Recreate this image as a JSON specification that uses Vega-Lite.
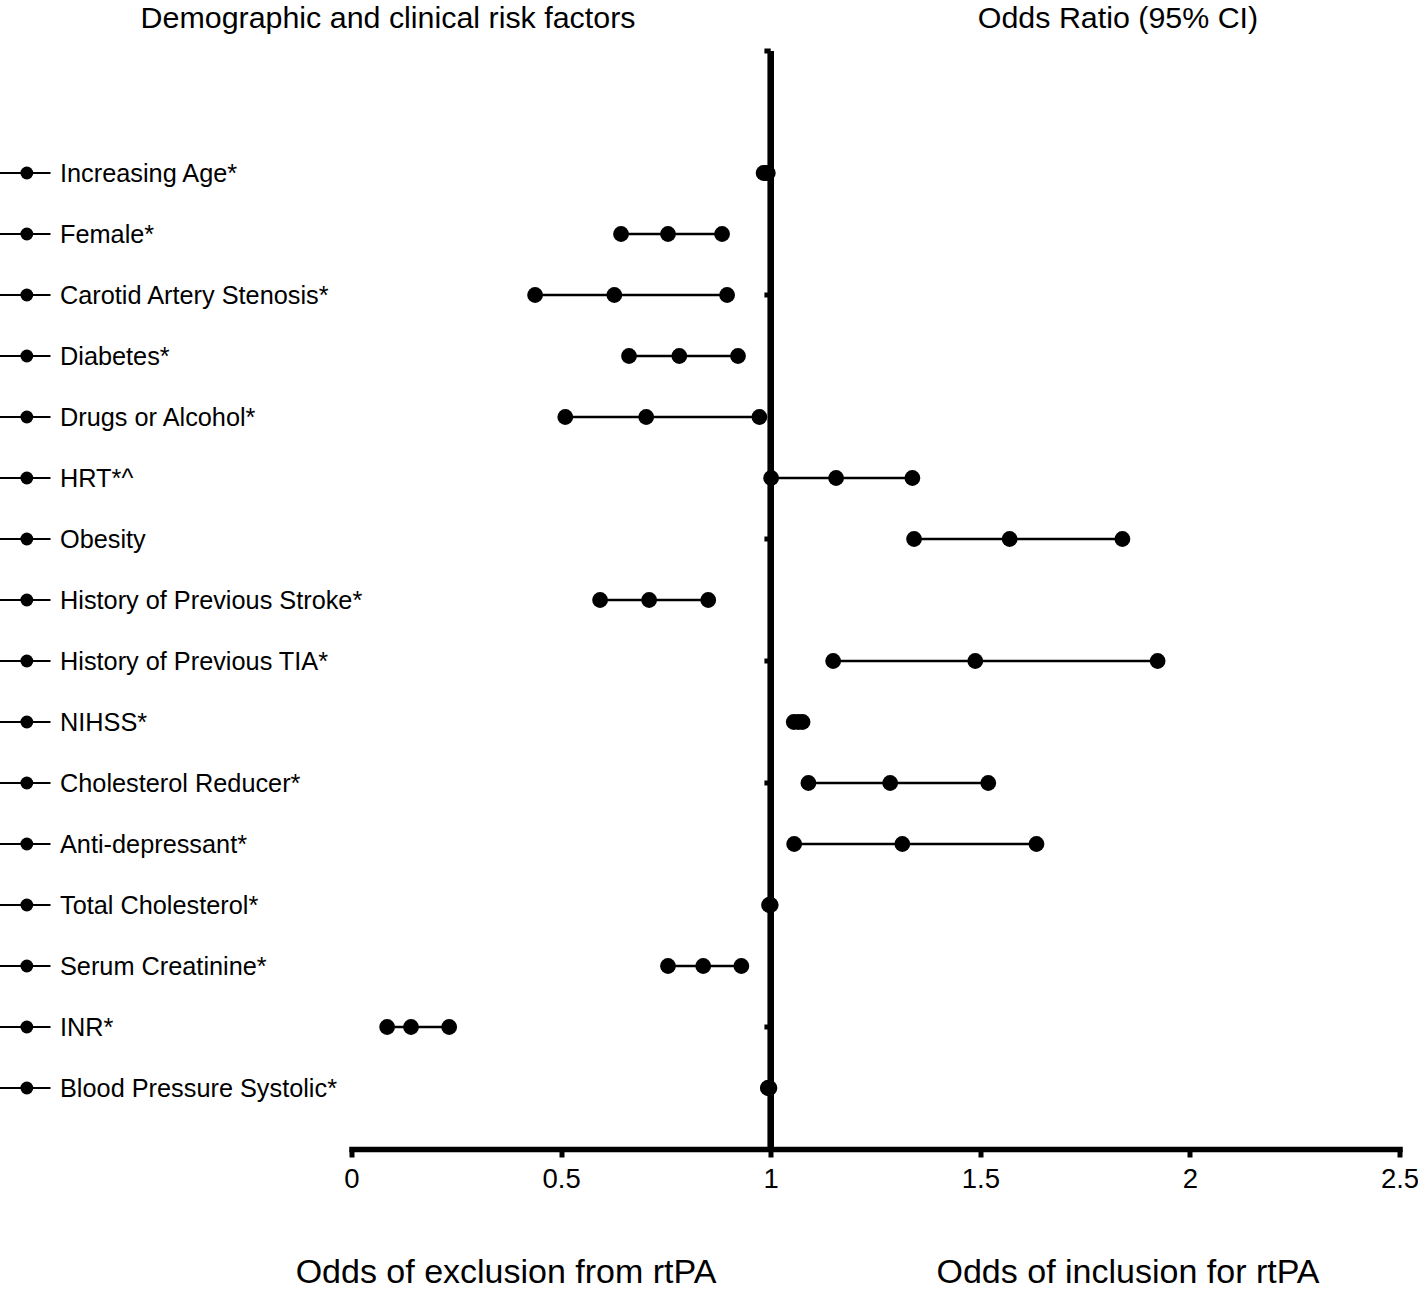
{
  "$schema": "https://vega.github.io/schema/vega-lite/v6.json",
  "width": 1048,
  "height": 1098,
  "autosize": {"type": "none"},
  "padding": {"left": 351.5, "top": 51, "right": 18.5, "bottom": 140},
  "background": "white",
  "config": {"view": {"stroke": null}, "font": "Liberation Sans"},
  "datasets": {
    "ticks": [
      {"factor": " "},
      {"factor": "Carotid Artery Stenosis*"},
      {"factor": "Obesity"},
      {"factor": "History of Previous TIA*"},
      {"factor": "Cholesterol Reducer*"},
      {"factor": "INR*"}
    ]
  },
  "data": {
    "values": [
      {"factor": "Increasing Age*", "lower": 0.983, "or": 0.988, "upper": 0.993},
      {"factor": "Female*", "lower": 0.643, "or": 0.755, "upper": 0.884},
      {"factor": "Carotid Artery Stenosis*", "lower": 0.438, "or": 0.627, "upper": 0.896},
      {"factor": "Diabetes*", "lower": 0.662, "or": 0.782, "upper": 0.922},
      {"factor": "Drugs or Alcohol*", "lower": 0.51, "or": 0.703, "upper": 0.973},
      {"factor": "HRT*^", "lower": 1.001, "or": 1.156, "upper": 1.338},
      {"factor": "Obesity", "lower": 1.342, "or": 1.57, "upper": 1.839},
      {"factor": "History of Previous Stroke*", "lower": 0.593, "or": 0.71, "upper": 0.851},
      {"factor": "History of Previous TIA*", "lower": 1.149, "or": 1.488, "upper": 1.923},
      {"factor": "NIHSS*", "lower": 1.055, "or": 1.066, "upper": 1.076},
      {"factor": "Cholesterol Reducer*", "lower": 1.09, "or": 1.285, "upper": 1.519},
      {"factor": "Anti-depressant*", "lower": 1.056, "or": 1.314, "upper": 1.634},
      {"factor": "Total Cholesterol*", "lower": 0.996, "or": 0.998, "upper": 1.0},
      {"factor": "Serum Creatinine*", "lower": 0.755, "or": 0.839, "upper": 0.93},
      {"factor": "INR*", "lower": 0.085, "or": 0.142, "upper": 0.233},
      {"factor": "Blood Pressure Systolic*", "lower": 0.993, "or": 0.995, "upper": 0.997}
    ]
  },
  "resolve": {"axis": {"x": "independent", "y": "independent"}},
  "layer": [
    {
      "mark": {"type": "rule", "strokeWidth": 5.5, "color": "black"},
      "encoding": {
        "x": {"datum": 1, "type": "quantitative", "scale": {"domain": [0, 2.5], "nice": false, "zero": false}, "axis": null},
        "y": {"datum": " ", "type": "nominal", "scale": {"type": "point", "padding": 0, "domain": [" ", "  ", "Increasing Age*", "Female*", "Carotid Artery Stenosis*", "Diabetes*", "Drugs or Alcohol*", "HRT*^", "Obesity", "History of Previous Stroke*", "History of Previous TIA*", "NIHSS*", "Cholesterol Reducer*", "Anti-depressant*", "Total Cholesterol*", "Serum Creatinine*", "INR*", "Blood Pressure Systolic*", "   "]}, "axis": null},
        "y2": {"datum": "   "}
      }
    },
    {
      "data": {"name": "ticks"},
      "mark": {"type": "rule", "strokeWidth": 5, "color": "black"},
      "encoding": {
        "x": {"datum": 0.985, "type": "quantitative", "scale": {"domain": [0, 2.5], "nice": false, "zero": false}, "axis": null},
        "x2": {"datum": 1},
        "y": {"field": "factor", "type": "nominal", "scale": {"type": "point", "padding": 0, "domain": [" ", "  ", "Increasing Age*", "Female*", "Carotid Artery Stenosis*", "Diabetes*", "Drugs or Alcohol*", "HRT*^", "Obesity", "History of Previous Stroke*", "History of Previous TIA*", "NIHSS*", "Cholesterol Reducer*", "Anti-depressant*", "Total Cholesterol*", "Serum Creatinine*", "INR*", "Blood Pressure Systolic*", "   "]}, "axis": null}
      }
    },
    {
      "mark": {"type": "rule", "strokeWidth": 2.5, "color": "black"},
      "encoding": {
        "x": {
          "field": "lower", "type": "quantitative",
          "scale": {"domain": [0, 2.5], "nice": false, "zero": false},
          "axis": {
            "orient": "bottom", "values": [0, 0.5, 1, 1.5, 2, 2.5], "format": "~g", "grid": false,
            "domainWidth": 5.5, "domainColor": "black", "domainCap": "square",
            "tickWidth": 5, "tickSize": 8, "tickColor": "black",
            "labelFont": "Liberation Sans", "labelFontSize": 27.5, "labelColor": "black", "labelPadding": 8, "labelFlush": false,
            "title": "Odds of  exclusion from rtPA", "titleFont": "Liberation Sans", "titleFontSize": 34, "titleFontWeight": "normal", "titleColor": "black",
            "titleX": 154, "titleY": 133, "titleAlign": "center", "titleBaseline": "alphabetic", "titleAnchor": null
          }
        },
        "x2": {"field": "upper"},
        "y": {
          "field": "factor", "type": "nominal",
          "scale": {"type": "point", "padding": 0, "domain": [" ", "  ", "Increasing Age*", "Female*", "Carotid Artery Stenosis*", "Diabetes*", "Drugs or Alcohol*", "HRT*^", "Obesity", "History of Previous Stroke*", "History of Previous TIA*", "NIHSS*", "Cholesterol Reducer*", "Anti-depressant*", "Total Cholesterol*", "Serum Creatinine*", "INR*", "Blood Pressure Systolic*", "   "]},
          "axis": {
            "orient": "left", "domain": false, "ticks": false, "tickSize": 0, "grid": false,
            "labelAlign": "left", "labelBaseline": "middle", "labelPadding": 292,
            "labelFont": "Liberation Sans", "labelFontSize": 25.3, "labelColor": "black", "labelLimit": 600, "labelOverlap": false,
            "title": "Demographic and clinical risk factors", "titleAngle": 0, "titleX": 36, "titleY": -24,
            "titleAlign": "center", "titleBaseline": "alphabetic", "titleFont": "Liberation Sans", "titleFontSize": 30.4, "titleFontWeight": "normal", "titleColor": "black"
          }
        }
      }
    },
    {
      "transform": [{"fold": ["lower", "or", "upper"], "as": ["stat", "value"]}],
      "mark": {"type": "circle", "size": 250, "opacity": 1, "color": "black"},
      "encoding": {
        "x": {
          "field": "value", "type": "quantitative",
          "scale": {"domain": [0, 2.5], "nice": false, "zero": false},
          "axis": {
            "orient": "top", "domain": false, "ticks": false, "labels": false, "grid": false,
            "title": "Odds Ratio (95% CI)", "titleX": 766, "titleY": -24, "titleAlign": "center", "titleBaseline": "alphabetic",
            "titleFont": "Liberation Sans", "titleFontSize": 30.4, "titleFontWeight": "normal", "titleColor": "black", "titleAnchor": null
          }
        },
        "y": {
          "field": "factor", "type": "nominal",
          "scale": {"type": "point", "padding": 0, "domain": [" ", "  ", "Increasing Age*", "Female*", "Carotid Artery Stenosis*", "Diabetes*", "Drugs or Alcohol*", "HRT*^", "Obesity", "History of Previous Stroke*", "History of Previous TIA*", "NIHSS*", "Cholesterol Reducer*", "Anti-depressant*", "Total Cholesterol*", "Serum Creatinine*", "INR*", "Blood Pressure Systolic*", "   "]},
          "axis": {
            "orient": "right", "domain": false, "ticks": false, "labels": false, "grid": false,
            "title": "Odds of inclusion for  rtPA", "titleAngle": 0, "titleX": -272, "titleY": 1231,
            "titleAlign": "center", "titleBaseline": "alphabetic", "titleFont": "Liberation Sans", "titleFontSize": 34, "titleFontWeight": "normal", "titleColor": "black"
          }
        }
      }
    },
    {
      "mark": {"type": "rule", "strokeWidth": 2, "color": "black"},
      "encoding": {
        "x": {"datum": -0.839, "type": "quantitative", "scale": {"domain": [0, 2.5], "nice": false, "zero": false}, "axis": null},
        "x2": {"datum": -0.718},
        "y": {"field": "factor", "type": "nominal", "scale": {"type": "point", "padding": 0, "domain": [" ", "  ", "Increasing Age*", "Female*", "Carotid Artery Stenosis*", "Diabetes*", "Drugs or Alcohol*", "HRT*^", "Obesity", "History of Previous Stroke*", "History of Previous TIA*", "NIHSS*", "Cholesterol Reducer*", "Anti-depressant*", "Total Cholesterol*", "Serum Creatinine*", "INR*", "Blood Pressure Systolic*", "   "]}, "axis": null}
      }
    },
    {
      "mark": {"type": "circle", "size": 165, "opacity": 1, "color": "black"},
      "encoding": {
        "x": {"datum": -0.7745, "type": "quantitative", "scale": {"domain": [0, 2.5], "nice": false, "zero": false}, "axis": null},
        "y": {"field": "factor", "type": "nominal", "scale": {"type": "point", "padding": 0, "domain": [" ", "  ", "Increasing Age*", "Female*", "Carotid Artery Stenosis*", "Diabetes*", "Drugs or Alcohol*", "HRT*^", "Obesity", "History of Previous Stroke*", "History of Previous TIA*", "NIHSS*", "Cholesterol Reducer*", "Anti-depressant*", "Total Cholesterol*", "Serum Creatinine*", "INR*", "Blood Pressure Systolic*", "   "]}, "axis": null}
      }
    }
  ]
}
